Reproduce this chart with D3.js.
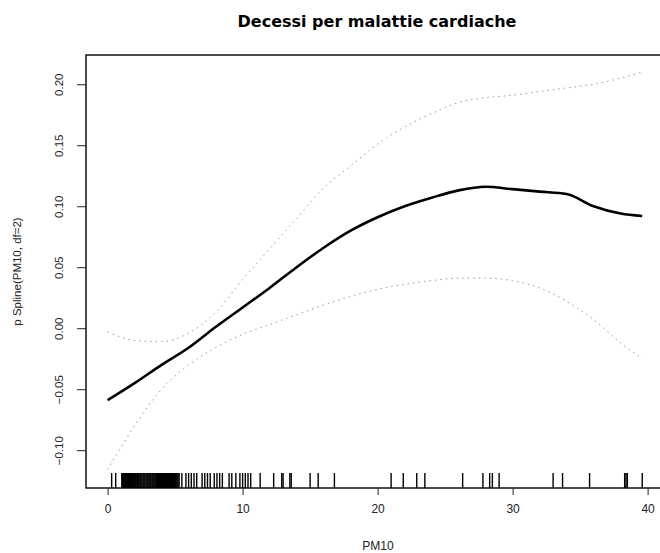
<!DOCTYPE html>
<html>
<head>
<meta charset="utf-8">
<script src="https://cdn.jsdelivr.net/npm/d3@7"></script>
<style>
  body { margin: 0; background: #fff; }
  svg { display: block; }
</style>
</head>
<body>
<div id="chart"></div>
<script>
// PM10 values where the fit is read
const pmX = [0, 2, 4, 6, 8, 10, 12, 14, 16, 18, 20, 22, 24, 26, 28, 30, 32, 34, 36, 38, 39.6];
// fitted spline
const fitY = [-0.059, -0.045, -0.030, -0.016, 0.001, 0.017, 0.033, 0.050, 0.066, 0.080, 0.091,
  0.100, 0.107, 0.113, 0.116, 0.114, 0.112, 0.110, 0.100, 0.094, 0.092];
// upper band
const upperY = [-0.003, -0.010, -0.011, -0.004, 0.013, 0.040, 0.065, 0.090, 0.115, 0.133, 0.151,
  0.165, 0.176, 0.185, 0.189, 0.191, 0.194, 0.197, 0.200, 0.205, 0.210];
// lower band
const lowerY = [-0.116, -0.080, -0.050, -0.030, -0.016, -0.005, 0.003, 0.011, 0.019, 0.026, 0.032,
  0.036, 0.039, 0.041, 0.041, 0.039, 0.033, 0.022, 0.007, -0.012, -0.025];

// observed PM10 (rug)
const rugX = [0.3, 0.6, 1.05, 1.12, 1.18, 1.25, 1.33, 1.4, 1.47, 1.55, 1.62, 1.7, 1.76, 1.83,
  1.9, 1.98, 2.05, 2.12, 2.2, 2.27, 2.34, 2.41, 2.48, 2.55, 2.63, 2.7, 2.77, 2.85, 2.92, 2.99,
  3.06, 3.13, 3.2, 3.28, 3.35, 3.42, 3.5, 3.57, 3.64, 3.71, 3.78, 3.86, 3.93, 4.0, 4.07, 4.15,
  4.22, 4.29, 4.36, 4.43, 4.5, 4.58, 4.65, 4.72, 4.8, 4.87, 4.94, 5.01, 5.08, 5.15, 5.22, 5.3,
  5.5, 5.8, 6.0, 6.2, 6.4, 6.6, 7.0, 7.2, 7.4, 7.6, 7.9, 8.1, 8.3, 8.5, 9.0, 9.2, 9.5, 9.8,
  10.0, 10.2, 10.4, 10.6, 11.3, 12.3, 12.9, 13.0, 13.5, 13.6, 15.0, 15.6, 16.8, 21.0, 21.9,
  22.9, 23.5, 26.3, 27.8, 28.3, 28.5, 29.0, 33.0, 33.7, 35.7, 38.3, 38.4, 38.5, 39.6];

const xTicks = [0, 10, 20, 30, 40];
const yTicks = [-0.10, -0.05, 0.00, 0.05, 0.10, 0.15, 0.20];

const width = 660, height = 553;
const plot = {left: 86, right: 700, top: 55, bottom: 488};

let svg = d3.select('#chart')
  .append('svg')
    .attr('width', width)
    .attr('height', height);

svg.append('rect')
  .attr('width', width)
  .attr('height', height)
  .attr('fill', '#fff');

// Scales
let x = d3.scaleLinear()
  .domain([-1.6, 43.88])
  .range([plot.left, plot.right]);
let y = d3.scaleLinear()
  .domain([-0.131, 0.224])
  .range([plot.bottom, plot.top]);

// Title
svg.append('text')
  .attr('x', 377)
  .attr('y', 27)
  .attr('text-anchor', 'middle')
  .style('font-family', "'DejaVu Sans', sans-serif")
  .style('font-weight', 'bold')
  .style('font-size', '16px')
  .attr('fill', '#000')
  .text('Decessi per malattie cardiache');

// Plot box (right side falls outside the window, as in the original)
svg.append('rect')
  .attr('x', plot.left)
  .attr('y', plot.top)
  .attr('width', plot.right - plot.left)
  .attr('height', plot.bottom - plot.top)
  .attr('fill', 'none')
  .attr('stroke', '#111')
  .attr('stroke-width', 1.5);

// X axis
let xAxis = svg.append('g')
  .attr('transform', 'translate(0,' + plot.bottom + ')')
  .call(d3.axisBottom(x).tickValues(xTicks).tickSize(7).tickFormat(d3.format('d')));
xAxis.select('.domain').remove();
xAxis.selectAll('line').attr('stroke', '#222');
xAxis.selectAll('text')
  .attr('y', 25)
  .attr('dy', 0)
  .attr('fill', '#222')
  .style('font-family', "'Liberation Sans', Arial, sans-serif")
  .style('font-size', '12px');

// Y axis
let yAxis = svg.append('g')
  .attr('transform', 'translate(' + plot.left + ',0)')
  .call(d3.axisLeft(y).tickValues(yTicks).tickSize(9).tickFormat(d3.format('.2f')));
yAxis.select('.domain').remove();
yAxis.selectAll('line').attr('stroke', '#222');
yAxis.selectAll('text')
  .attr('x', 0)
  .attr('dy', 0)
  .attr('text-anchor', 'middle')
  .attr('transform', 'translate(-23,0) rotate(-90)')
  .attr('fill', '#222')
  .style('font-family', "'Liberation Sans', Arial, sans-serif")
  .style('font-size', '11.5px');

// Axis titles
svg.append('text')
  .attr('x', 378)
  .attr('y', 550)
  .attr('text-anchor', 'middle')
  .style('font-family', "'Liberation Sans', Arial, sans-serif")
  .style('font-size', '12px')
  .attr('fill', '#222')
  .text('PM10');
svg.append('text')
  .attr('transform', 'translate(21,' + (plot.top + plot.bottom) / 2 + ') rotate(-90)')
  .attr('text-anchor', 'middle')
  .style('font-family', "'Liberation Sans', Arial, sans-serif")
  .style('font-size', '11.5px')
  .attr('fill', '#222')
  .text('p Spline(PM10, df=2)');

// Lines
let band = (vals) => d3.line()
  .x((d, i) => x(pmX[i]))
  .y(d => y(d))
  .curve(d3.curveMonotoneX)(vals);

svg.append('path')
  .attr('d', band(upperY))
  .attr('fill', 'none')
  .attr('stroke', '#999')
  .attr('stroke-width', 1)
  .attr('stroke-dasharray', '1.5,4');
svg.append('path')
  .attr('d', band(lowerY))
  .attr('fill', 'none')
  .attr('stroke', '#999')
  .attr('stroke-width', 1)
  .attr('stroke-dasharray', '1.5,4');
svg.append('path')
  .attr('d', band(fitY))
  .attr('fill', 'none')
  .attr('stroke', '#000')
  .attr('stroke-width', 2.6)
  .attr('stroke-linejoin', 'round');

// Rug
svg.append('g')
  .selectAll('line')
  .data(rugX)
  .enter().append('line')
    .attr('x1', d => x(d))
    .attr('x2', d => x(d))
    .attr('y1', plot.bottom)
    .attr('y2', plot.bottom - 15)
    .attr('stroke', '#000')
    .attr('stroke-width', 1.4);
</script>
</body>
</html>
